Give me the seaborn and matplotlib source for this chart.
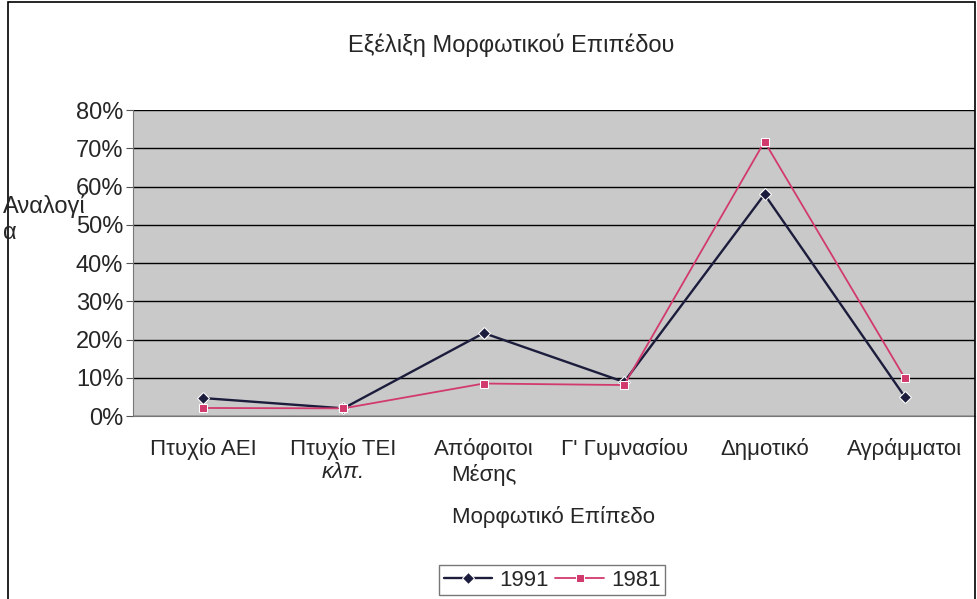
import matplotlib
matplotlib.use("Agg")
import matplotlib.pyplot as plt
import matplotlib.transforms as mtransforms
import numpy as np
import pandas as pd
import seaborn as sns

# data
levels = ["Πτυχίο ΑΕΙ", "Πτυχίο ΤΕΙ\nκλπ.", "Απόφοιτοι\nΜέσης",
          "Γ' Γυμνασίου", "Δημοτικό", "Αγράμματοι"]
share_1991 = [0.047, 0.020, 0.217, 0.089, 0.580, 0.050]
share_1981 = [0.021, 0.020, 0.085, 0.081, 0.718, 0.099]
years = ["1991", "1981"]
y_ticks = [0.0, 0.1, 0.2, 0.3, 0.4, 0.5, 0.6, 0.7, 0.8]

df = pd.DataFrame({
    "level": levels * 2,
    "share": share_1991 + share_1981,
    "year": [years[0]] * len(levels) + [years[1]] * len(levels),
})

sns.set_style("white")
plt.rcParams["font.family"] = ["Liberation Sans", "DejaVu Sans"]

fig = plt.figure(figsize=(9.77, 5.99), dpi=100)
ax = fig.add_axes([0.136, 0.3055, 0.862, 0.5105])
ax.set_facecolor("#c9c9c9")

palette = {"1991": "#1c1c3c", "1981": "#d23a6e"}
sns.lineplot(data=df, x="level", y="share", hue="year", style="year",
             markers={"1991": "D", "1981": "s"}, dashes=False, sort=False,
             palette=palette, size="year", sizes={"1991": 1.7, "1981": 1.3},
             markersize=6, ax=ax)

ax.set_xlim(-0.5, len(levels) - 0.5)
ax.set_ylim(0, 0.8)
ax.set_yticks(y_ticks)
ax.set_yticklabels([f"{int(round(t * 100))}%" for t in y_ticks], fontsize=17)
ax.yaxis.grid(True, color="black", linewidth=1.0)
ax.set_axisbelow(True)

# tick labels: first lines as normal text, the "κλπ." line in italics
ax.set_xticks(range(len(levels)))
ax.set_xticklabels([lab if i != 1 else lab.split("\n")[0]
                    for i, lab in enumerate(levels)], fontsize=16,
                   linespacing=1.25)
trans = mtransforms.blended_transform_factory(ax.transData, fig.transFigure)
ax.text(1, 1 - 472 / 599, levels[1].split("\n")[1], transform=trans,
        fontsize=16, style="italic", ha="center", va="center")

ax.set_xticks(np.arange(-0.5, len(levels), 1.0), minor=True)
ax.tick_params(axis="x", which="major", length=0, pad=16)
ax.tick_params(axis="x", which="minor", length=5, color="#555555", direction="out")
ax.tick_params(axis="y", length=5, color="#555555", direction="out", left=True,
               pad=2)

for s in ["top", "right"]:
    ax.spines[s].set_visible(False)
ax.spines["left"].set_color("#777777")
ax.spines["bottom"].set_color("#777777")

ax.set_xlabel("Μορφωτικό Επίπεδο", fontsize=16, labelpad=14)
ax.set_ylabel("")
fig.text(0.003, 1 - 207 / 599, "Αναλογί", fontsize=17, ha="left", va="center")
fig.text(0.003, 1 - 233 / 599, "α", fontsize=17, ha="left", va="center")

fig.text(0.523, 1 - 45 / 599, "Εξέλιξη Μορφωτικού Επιπέδου", fontsize=17,
         ha="center", va="center")

handles, labels = ax.get_legend_handles_labels()
keep = [i for i, l in enumerate(labels) if l in years]
ax.legend([handles[i] for i in keep], [labels[i] for i in keep], loc="center",
          bbox_to_anchor=(0.565, 1 - 580 / 599),
          bbox_transform=fig.transFigure, ncol=2, fontsize=16, frameon=True,
          fancybox=False, edgecolor="#555555", handlelength=2.2,
          columnspacing=0.3, handletextpad=0.3, borderpad=0.2)

# outer chart frame
fig.patches.append(plt.Rectangle((0.008, -0.01), 0.99, 1.007,
                                 transform=fig.transFigure, fill=False,
                                 edgecolor="black", linewidth=1.2))

fig.savefig("out.png", dpi=100, facecolor="white")
